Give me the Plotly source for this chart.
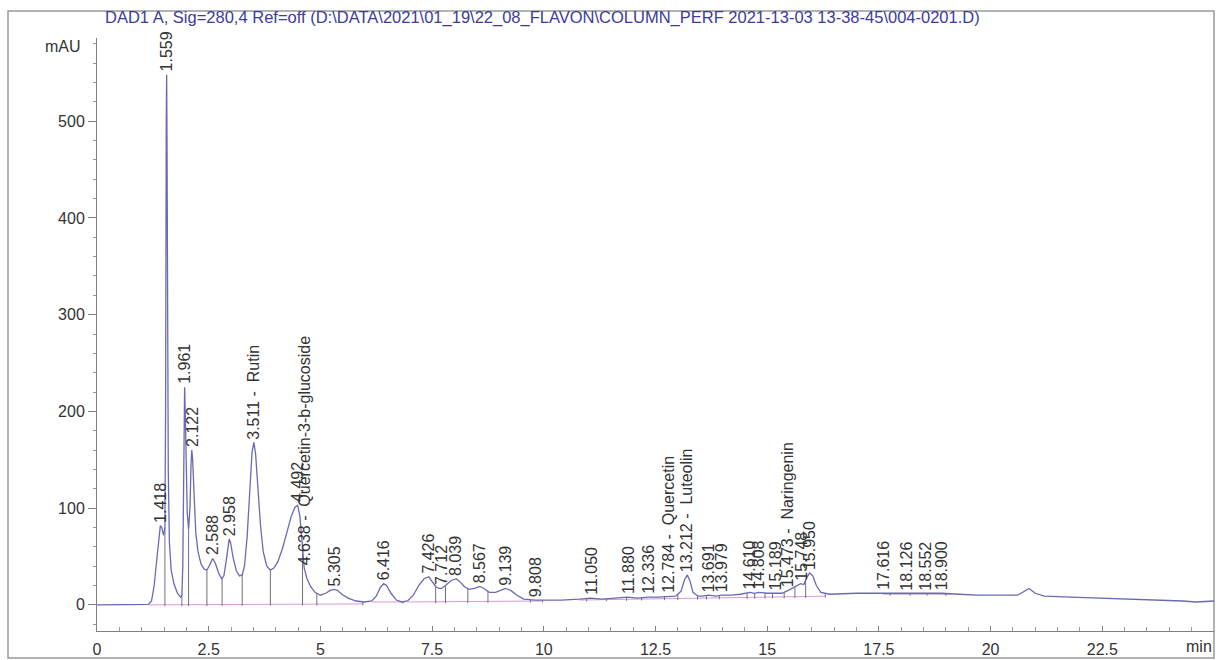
import numpy as np
import plotly.graph_objects as go

# DAD1 A trace, 280 nm: retention time (min) and absorbance (mAU)
time_min = [
    0.0, 0.5, 1.0, 1.15, 1.22, 1.28, 1.34, 1.38, 1.418, 1.45, 1.49, 1.52,
    1.535, 1.55, 1.559, 1.568, 1.578, 1.595, 1.62, 1.66, 1.72, 1.80, 1.87, 1.90,
    1.92, 1.94, 1.961, 1.975, 1.995, 2.02, 2.05, 2.08, 2.105, 2.122, 2.14, 2.17,
    2.21, 2.26, 2.33, 2.40, 2.46, 2.52, 2.588, 2.65, 2.72, 2.79, 2.84, 2.89,
    2.93, 2.958, 2.99, 3.05, 3.12, 3.19, 3.25, 3.30, 3.36, 3.42, 3.47, 3.511,
    3.55, 3.60, 3.66, 3.72, 3.80, 3.88, 3.96, 4.05, 4.15, 4.25, 4.35, 4.43,
    4.492, 4.54, 4.59, 4.638, 4.70, 4.78, 4.88, 5.00, 5.12, 5.22, 5.305, 5.38,
    5.48, 5.62, 5.80, 5.98, 6.15, 6.25, 6.34, 6.416, 6.48, 6.58, 6.70, 6.82,
    6.95, 7.08, 7.20, 7.32, 7.426, 7.50, 7.58, 7.65, 7.712, 7.80, 7.92, 8.039,
    8.12, 8.22, 8.32, 8.45, 8.567, 8.66, 8.78, 8.92, 9.03, 9.139, 9.26, 9.40,
    9.55, 9.70, 9.808, 9.95, 10.4, 10.8, 11.05, 11.3, 11.6, 11.88, 12.1, 12.336,
    12.55, 12.784, 12.95, 13.07, 13.15, 13.212, 13.27, 13.34, 13.45, 13.55, 13.691, 13.85,
    13.979, 14.2, 14.4, 14.61, 14.71, 14.808, 15.0, 15.189, 15.33, 15.473, 15.60, 15.748,
    15.82, 15.88, 15.95, 16.02, 16.10, 16.20, 16.40, 17.0, 17.616, 18.126, 18.552, 18.9,
    19.3, 19.7, 20.2, 20.6, 20.72, 20.86, 21.0, 21.2, 21.8, 22.5, 23.2, 23.8,
    24.3, 24.6, 25.0,
]
signal_mau = [
    0, 0, 0, 0.5, 4, 20, 48, 70, 82, 80, 72, 80,
    200, 500, 548, 470, 300, 140, 65, 36, 22, 12, 8, 10,
    40, 150, 225, 200, 140, 95, 78, 100, 145, 160, 150, 110,
    75, 55, 42, 37, 36, 41, 48, 43, 33, 27, 30, 45,
    62, 68, 64, 48, 35, 30, 31, 40, 70, 120, 158, 168,
    156, 122, 82, 55, 40, 36, 38, 45, 58, 75, 92, 101,
    103, 92, 62, 38, 27, 19, 13, 10, 12, 15, 16, 15,
    11, 7, 4, 3, 4, 9, 18, 22, 20, 12, 5, 3,
    4, 10, 20, 27, 29, 24, 19, 17, 17, 20, 25, 27,
    24, 19, 16, 17, 19, 17, 13, 13, 15, 17, 15, 10,
    6, 5, 5, 5, 5, 6, 7, 6, 7, 8, 7, 8,
    8, 9, 9, 14, 26, 31, 25, 13, 9, 9, 10, 9,
    10, 10, 11, 13, 12, 13, 12, 12, 12, 15, 18, 22,
    21, 28, 33, 30, 20, 13, 11, 12, 12, 12, 12, 12,
    11, 10, 10, 10, 13, 17, 12, 9, 8, 7, 6, 5,
    4, 3, 4,
]

# Integrated peaks: retention time and compound name
peak_rt = [
    1.418, 1.559, 1.961, 2.122, 2.588, 2.958, 3.511, 4.492, 4.638, 5.305,
    6.416, 7.426, 7.712, 8.039, 8.567, 9.139, 9.808, 11.050, 11.880, 12.336,
    12.784, 13.212, 13.691, 13.979, 14.610, 14.808, 15.189, 15.473, 15.748, 15.950,
    17.616, 18.126, 18.552, 18.900,
]
peak_name = [
    "", "", "", "", "", "", "Rutin", "", "Quercetin-3-b-glucoside", "",
    "", "", "", "", "", "", "", "", "", "",
    "Quercetin", "Luteolin", "", "", "", "", "", "Naringenin", "", "",
    "", "", "", "",
]

# Integration events (peak start / end marks), min
cut_min = [
    1.52, 1.90, 2.05, 2.46, 2.80, 3.25, 3.88, 4.60, 4.92, 5.95,
    6.85, 7.58, 7.80, 8.30, 8.75, 9.70, 9.97, 10.96, 11.40, 11.85,
    12.19, 12.70, 13.00, 13.44, 13.64, 13.93, 14.55, 14.72, 14.95, 15.12,
    15.38, 15.62, 15.86, 16.30, 17.75, 18.20, 18.58, 19.00, 19.68,
]

# Drawn integration baselines (None separates segments)
base_min = [1.15, 5.95, None, 6.15, 6.85, None, 6.95, 9.95, None, 10.8, 16.3, None, 17.6, 19.1]
base_mau = [0, 1, None, 3, 3, None, 3, 4, None, 5, 9, None, 11, 11]

x_ticks = [0, 2.5, 5, 7.5, 10, 12.5, 15, 17.5, 20, 22.5]
y_ticks = [0, 100, 200, 300, 400, 500]

title = ("DAD1 A, Sig=280,4 Ref=off (D:\\DATA\\2021\\01_19\\22_08_FLAVON\\COLUMN_PERF "
         "2021-13-03 13-38-45\\004-0201.D)")

# ---- geometry of the page (pixels) ----
W, H = 1224, 660
ML, MR, MT, MB = 97, 10, 38, 29
PW, PH = W - ML - MR, H - MT - MB


def px_x(px):
    return (px - ML) / PW


def px_y(py):
    return (H - MB - py) / PH


FONT = "Liberation Sans, Arial, sans-serif"

fig = go.Figure()

# integration baselines
fig.add_trace(go.Scatter(
    x=base_min, y=base_mau, mode="lines",
    line=dict(color="#d89ad8", width=1), hoverinfo="skip", showlegend=False,
))

# drop lines between baseline and signal
bt = [t for t in base_min if t is not None]
bv = [v for v in base_mau if v is not None]
dx, dy = [], []
for c in cut_min:
    top = float(np.interp(c, time_min, signal_mau))
    bot = float(np.interp(c, bt, bv))
    dx += [c, c, None]
    dy += [bot - 1.5, top, None]
fig.add_trace(go.Scatter(
    x=dx, y=dy, mode="lines",
    line=dict(color="#70707e", width=1), hoverinfo="skip", showlegend=False,
))

# the chromatogram
fig.add_trace(go.Scatter(
    x=time_min, y=signal_mau, mode="lines",
    line=dict(color="#6a6ab4", width=1.3), showlegend=False,
))

annotations = []
for rt, name in zip(peak_rt, peak_name):
    txt = f"{rt:.3f}" + (f" -  {name}" if name else "")
    apex = float(np.interp(rt, time_min, signal_mau))
    annotations.append(dict(
        x=rt, y=apex, xref="x", yref="y", text=txt, textangle=-90,
        showarrow=False, xanchor="center", yanchor="bottom", yshift=1,
        font=dict(family=FONT, size=16, color="#333333"),
    ))

annotations.append(dict(
    x=px_x(103), y=px_y(18), xref="paper", yref="paper", text=title,
    showarrow=False, xanchor="left", yanchor="middle",
    font=dict(family=FONT, size=16.5, color="#3c3c98"),
))
annotations.append(dict(
    x=0, y=577, xref="paper", yref="y", text="mAU", showarrow=False,
    xanchor="right", yanchor="middle", xshift=-14,
    font=dict(family=FONT, size=16, color="#333333"),
))
annotations.append(dict(
    x=25, y=0, xref="x", yref="paper", text="min", showarrow=False,
    xanchor="right", yanchor="top", yshift=-5,
    font=dict(family=FONT, size=16, color="#333333"),
))

fig.update_layout(
    width=W, height=H,
    margin=dict(l=ML, r=MR, t=MT, b=MB, pad=0),
    paper_bgcolor="white", plot_bgcolor="white",
    annotations=annotations,
    shapes=[dict(
        type="rect", xref="paper", yref="paper",
        x0=px_x(8), x1=px_x(1214), y0=px_y(658), y1=px_y(11),
        line=dict(color="#9a9a9a", width=1.5), fillcolor="rgba(0,0,0,0)",
        layer="below",
    )],
)

fig.update_xaxes(
    range=[0, 25], tickvals=x_ticks, ticktext=[f"{v:g}" for v in x_ticks],
    ticks="inside", ticklen=5, tickcolor="#808080", ticklabelstandoff=4,
    minor=dict(dtick=0.5, tick0=0, ticks="inside", ticklen=4, tickcolor="#9a9a9a"),
    showline=True, linecolor="#808080", linewidth=1,
    showgrid=False, zeroline=False, automargin=False,
    tickfont=dict(family=FONT, size=16, color="#333333"),
)
fig.update_yaxes(
    range=[-27, 586], tickvals=y_ticks,
    ticks="outside", ticklen=8, tickcolor="#808080",
    minor=dict(dtick=20, tick0=0, ticks="outside", ticklen=3, tickcolor="#9a9a9a"),
    showline=True, linecolor="#808080", linewidth=1,
    showgrid=False, zeroline=False, automargin=False,
    tickfont=dict(family=FONT, size=16, color="#333333"),
)

fig.write_html("out.html")
